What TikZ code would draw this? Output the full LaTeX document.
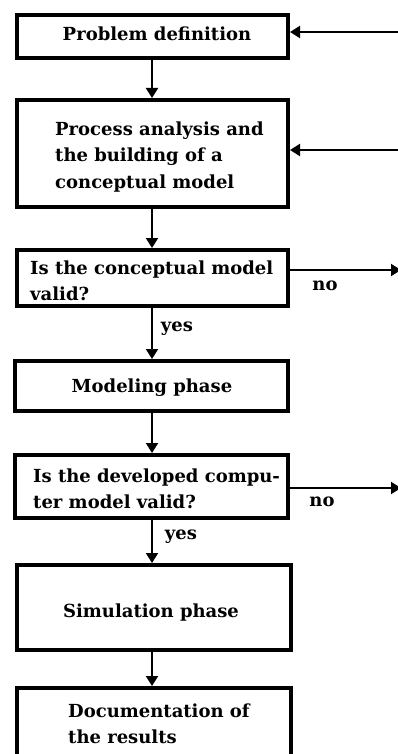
\documentclass[tikz,border=0pt]{standalone}
\usepackage{fontspec}
\setmainfont{DejaVu Serif}
\usetikzlibrary{arrows.meta}
\tikzset{
  box/.style={draw, line width=4pt, outer sep=2pt, inner sep=0pt},
  txt/.style={inner sep=0pt, align=left, font=\bfseries\fontsize{18}{26.5}\selectfont},
  arr/.style={line width=2pt, -{Triangle[length=10pt,width=12pt]}},
  lbl/.style={inner sep=0pt, font=\bfseries\fontsize{18}{20}\selectfont}
}
\begin{document}
\begin{tikzpicture}[x=1pt,y=-1pt]
\clip (0,0) rectangle (398,754);
\fill[white] (0,0) rectangle (398,754);

% process boxes
\node[box, minimum width=271pt, minimum height=43pt]  (pd) at (152.5,36.5) {};
\node[box, minimum width=271pt, minimum height=107pt] (pa) at (152.5,153.5) {};
\node[box, minimum width=271pt, minimum height=56pt]  (cv) at (152.5,278) {};
\node[box, minimum width=273pt, minimum height=50pt]  (mp) at (151.5,386) {};
\node[box, minimum width=273pt, minimum height=63pt]  (cm) at (151.5,486.5) {};
\node[box, minimum width=274pt, minimum height=85pt]  (sp) at (154,607.5) {};
\node[box, minimum width=274pt, minimum height=120pt] (dr) at (154,748) {};

% box texts
\node[txt] (tpd) at (157,34) {Problem definition};
\node[txt, anchor=west] (tpa) at (55,157) {Process analysis and\\the building of a\\conceptual model};
\node[txt, anchor=west] (tcv) at (30,281) {Is the conceptual model\\valid?};
\node[txt] (tmp) at (152,388) {Modeling phase};
\node[txt, anchor=west] (tcm) at (33,489) {Is the developed compu-\\ter model valid?};
\node[txt] (tsp) at (151,613) {Simulation phase};
\node[txt, anchor=west] (tdr) at (68,724) {Documentation of\\the results};

% main flow
\coordinate (spine) at (152,0);
\draw[arr] (pd.south -| spine) -- (pa.north -| spine);
\draw[arr] (pa.south -| spine) -- (cv.north -| spine);
\draw[arr] (cv.south -| spine) -- (mp.north -| spine);
\draw[arr] (mp.south -| spine) -- (cm.north -| spine);
\draw[arr] (cm.south -| spine) -- (sp.north -| spine);
\draw[arr] (sp.south -| spine) -- (dr.north -| spine);

% feedback inputs from the right
\coordinate (in1) at (398,32);
\coordinate (in2) at (398,150);
\draw[arr] (in1) -- (in1 -| pd.east);
\draw[arr] (in2) -- (in2 -| pa.east);

% rejection outputs to the right
\coordinate (out1) at (401,270);
\coordinate (out2) at (401,488);
\draw[arr] (out1 -| cv.east) -- (out1);
\draw[arr] (out2 -| cm.east) -- (out2);

% branch labels
\node[lbl] (no1) at (325,286) {no};
\node[lbl] (no2) at (322,502) {no};
\node[lbl] (yes1) at (177,329) {yes};
\node[lbl] (yes2) at (181,537) {yes};
\end{tikzpicture}
\end{document}
